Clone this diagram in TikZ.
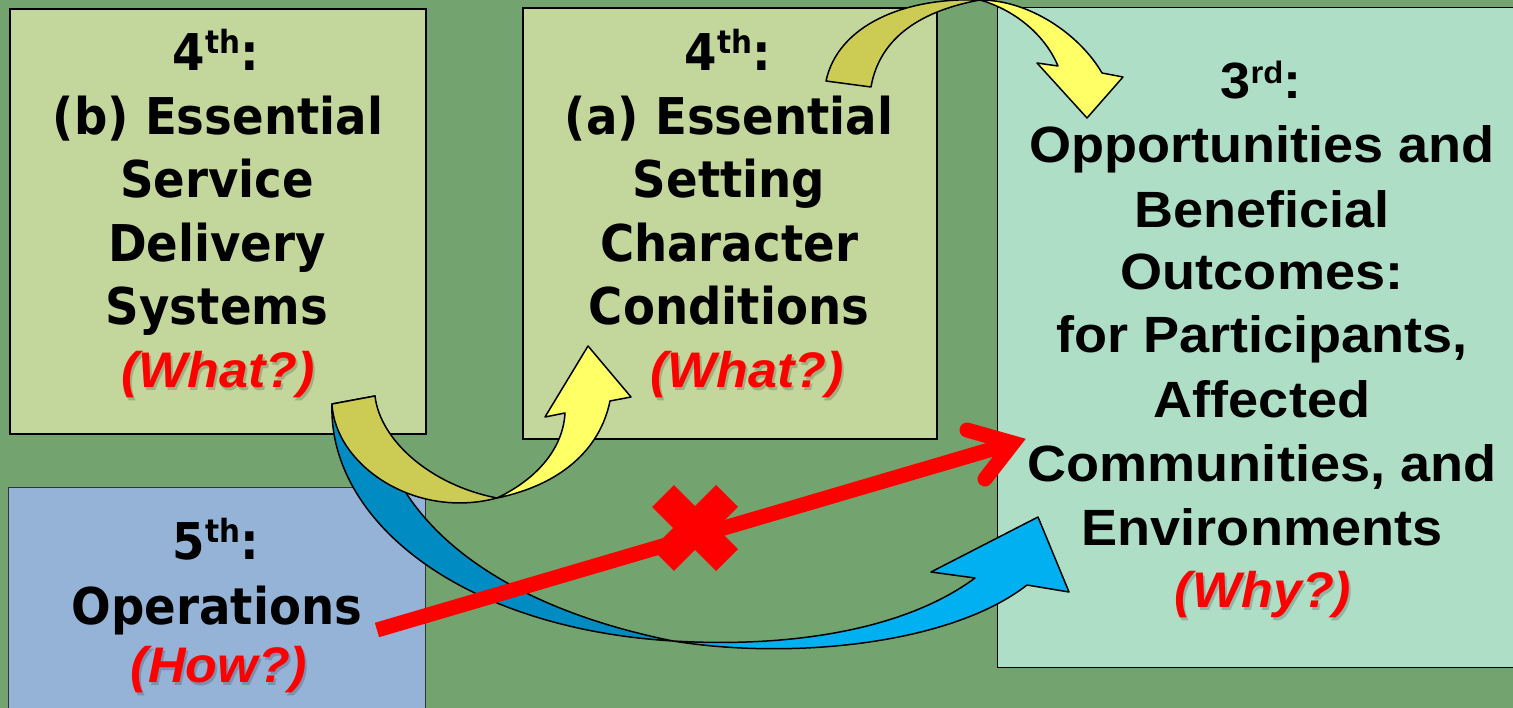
\documentclass[tikz,border=0pt]{standalone}
\usepackage{fontspec}
\newfontfamily\boxfont{DejaVu Sans}[FakeStretch=0.92]
\newfontfamily\outfont{Liberation Sans}[FakeStretch=1.06]
\newfontfamily\askfont{Liberation Sans}[FakeStretch=1.04]

\definecolor{bgc}{HTML}{73A46F}
\definecolor{olivebox}{HTML}{C3D69B}
\definecolor{bluebox}{HTML}{95B3D7}
\definecolor{mintbox}{HTML}{AFDEC7}
\definecolor{yellowfront}{HTML}{FFFF66}
\definecolor{yellowback}{HTML}{CCCC55}
\definecolor{bluefront}{HTML}{00B0F0}
\definecolor{blueback}{HTML}{008CC2}

% raised ordinal suffixes
\newcommand\ordl[1]{\raisebox{17pt}{\fontsize{32}{32}\selectfont #1}}
\newcommand\ordr[1]{\raisebox{15pt}{\fontsize{31}{31}\selectfont #1}}

\tikzset{
  panel/.style={draw=black, line width=1.6pt, anchor=north west, inner sep=0pt},
  txtl/.style={anchor=base, inner sep=0pt, font=\boxfont\bfseries\fontsize{50.7}{60}\selectfont},
  txtr/.style={anchor=base, inner sep=0pt, font=\outfont\bfseries\fontsize{51}{60}\selectfont},
  ask/.style={anchor=base, inner sep=0pt, text=red, font=\askfont\bfseries\itshape\fontsize{50}{60}\selectfont},
  askshadow/.style={ask, text=black, text opacity=0.18},
  ribbon/.style={draw=black, line width=1.5pt, line join=round},
  redstroke/.style={draw=red, line width=15pt},
}

\begin{document}
\begin{tikzpicture}[x=1pt, y=-1pt]
\useasboundingbox (0,0) rectangle (1513,708);
\clip (0,0) rectangle (1513,708);
\fill[bgc] (0,0) rectangle (1513,708);

% panels
\node[panel, fill=olivebox, minimum width=416pt, minimum height=425pt] (boxB) at (9,8) {};
\node[panel, fill=olivebox, minimum width=414pt, minimum height=431pt] (boxA) at (522,7) {};
\node[panel, fill=mintbox, line width=1.3pt, minimum width=540pt, minimum height=660pt] (boxO) at (997,7) {};
\node[panel, fill=bluebox, draw=black!80, line width=1.3pt, minimum width=417pt, minimum height=250pt] (boxOp) at (8,487) {};

% 4th (b)
\node[txtl] (b1) at (216,71) {4\ordl{th}:};
\node[txtl] (b2) at (218,135) {(b) Essential};
\node[txtl] (b3) at (217,198) {Service};
\node[txtl] (b4) at (217,262) {Delivery};
\node[txtl] (b5) at (217,325) {Systems};
\node[askshadow] (b6s) at (220,391) {(What?)};
\node[ask] (b6) at (218,388) {(What?)};

% 4th (a)
\node[txtl] (a1) at (728,71) {4\ordl{th}:};
\node[txtl] (a2) at (729,135) {(a) Essential};
\node[txtl] (a3) at (729,198) {Setting};
\node[txtl] (a4) at (729,262) {Character};
\node[txtl] (a5) at (729,325) {Conditions};
\node[askshadow] (a6s) at (749,391) {(What?)};
\node[ask] (a6) at (747,388) {(What?)};

% 3rd
\node[txtr] (o1) at (1261,99) {3\ordr{rd}:};
\node[txtr] (o2) at (1262,163) {Opportunities and};
\node[txtr] (o3) at (1262,228) {Beneficial};
\node[txtr] (o4) at (1262,290) {Outcomes:};
\node[txtr] (o5) at (1262,353) {for Participants,};
\node[txtr] (o6) at (1262,418) {Affected};
\node[txtr] (o7) at (1262,482) {Communities, and};
\node[txtr] (o8) at (1262,545) {Environments};
\node[askshadow] (o9s) at (1265,610) {(Why?)};
\node[ask] (o9) at (1263,607) {(Why?)};

% 5th
\node[txtl] (p1) at (216,559) {5\ordl{th}:};
\node[txtl] (p2) at (217,624) {Operations};
\node[askshadow] (p3s) at (221,685) {(How?)};
\node[ask] (p3) at (219,682) {(How?)};

% blue curved arrow: back face, then front face with head
\filldraw[ribbon, fill=blueback]
  (332,404) .. controls (328,520) and (460,628) .. (673,641)
  .. controls (470,600) and (378,500) .. (375,396) -- cycle;
\filldraw[ribbon, fill=bluefront]
  (673,641) .. controls (790,660) and (950,645) .. (1027,585)
  -- (1069,592) -- (1038,517) -- (931,572) -- (975,578)
  .. controls (905,630) and (790,648) .. (673,641) -- cycle;

% lower yellow curved arrow
\filldraw[ribbon, fill=yellowback]
  (332,404) .. controls (335,465) and (415,520) .. (497,498)
  .. controls (430,485) and (380,440) .. (375,396) -- cycle;
\filldraw[ribbon, fill=yellowfront]
  (497,498) .. controls (560,485) and (600,450) .. (610,401)
  -- (631,397) -- (588,346) -- (545,417) -- (565,413)
  .. controls (563,450) and (535,480) .. (497,498) -- cycle;

% upper yellow curved arrow
\filldraw[ribbon, fill=yellowback]
  (826,81) .. controls (838,25) and (905,-3) .. (980,0)
  .. controls (925,10) and (880,35) .. (871,87) -- cycle;
\filldraw[ribbon, fill=yellowfront]
  (980,0) .. controls (1030,0) and (1080,35) .. (1102,73)
  -- (1123,77) -- (1087,118) -- (1037,63) -- (1058,66)
  .. controls (1045,35) and (1015,10) .. (980,0) -- cycle;

% red straight arrow from operations to outcomes
\coordinate (rtail) at (377,630);
\coordinate (rvert) at (1013,443);
\coordinate (rbarbA) at (967,430);
\coordinate (rbarbB) at (985,479);
\draw[redstroke] (rtail) -- (rvert);
\draw[redstroke, line cap=round, miter limit=10] (rbarbA) -- (rvert) -- (rbarbB);

% red cross
\coordinate (xa) at (663,496);
\coordinate (xb) at (727,560);
\coordinate (xc) at (727,496);
\coordinate (xd) at (663,560);
\draw[red, line width=31pt] (xa) -- (xb);
\draw[red, line width=31pt] (xc) -- (xd);
\end{tikzpicture}
\end{document}
